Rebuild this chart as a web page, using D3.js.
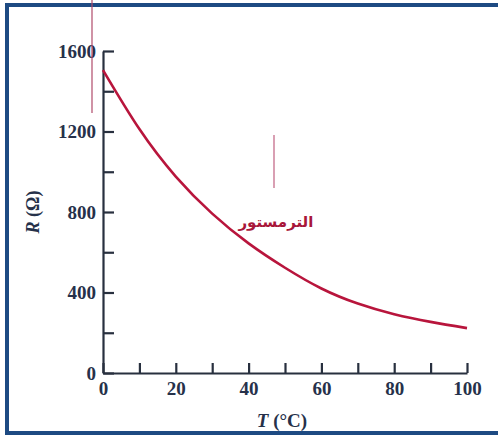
<!DOCTYPE html>
<html>
<head>
<meta charset="utf-8">
<script src="https://cdn.jsdelivr.net/npm/d3@7"></script>
<style>
  body { margin: 0; background: #fff; }
</style>
</head>
<body>
<div id="chart"></div>
<script>
// Thermistor resistance vs temperature
const temps = [0, 10, 20, 30, 40, 50, 60, 70, 80, 90, 100];
const resistance = [1505, 1212, 976, 792, 644, 523, 420, 345, 292, 254, 223];
const xTicks = [0, 10, 20, 30, 40, 50, 60, 70, 80, 90, 100];
const yTicks = [0, 200, 400, 600, 800, 1000, 1200, 1400, 1600];
const curveLabel = "الترمستور";

const width = 498;
const height = 436;
const margin = { top: 51, right: 31, bottom: 63, left: 103 };

const svg = d3.select("#chart")
    .append("svg")
    .attr("width", width)
    .attr("height", height);

// blue frame of the scanned figure
svg.append("rect")
    .attr("x", 7)
    .attr("y", 5)
    .attr("width", 520)
    .attr("height", 428)
    .attr("fill", "none")
    .attr("stroke", "#1d4a82")
    .attr("stroke-width", 4);

const x = d3.scaleLinear()
    .domain([0, 100])
    .range([margin.left, width - margin.right]);

const y = d3.scaleLinear()
    .domain([0, 1600])
    .range([height - margin.bottom, margin.top]);

const axisColor = "#28303f";
const labelColor = "#26314a";

// x axis, ticks pointing up
svg.append("g")
    .attr("transform", `translate(0, ${y(0)})`)
    .call(
        d3.axisBottom(x)
            .tickValues(xTicks)
            .tickSizeInner(-10)
            .tickSizeOuter(0)
            .tickPadding(9)
            .tickFormat(d => d % 20 === 0 ? d : "")
    );

// y axis, ticks pointing right
svg.append("g")
    .attr("transform", `translate(${x(0)}, 0)`)
    .call(
        d3.axisLeft(y)
            .tickValues(yTicks)
            .tickSizeInner(-11)
            .tickSizeOuter(0)
            .tickPadding(7)
            .tickFormat(d => d % 400 === 0 ? d : "")
    );

svg.selectAll(".domain")
    .attr("stroke", axisColor)
    .style("stroke-width", "2.2px");
svg.selectAll(".tick line")
    .attr("stroke", axisColor)
    .style("stroke-width", "2.2px");
svg.selectAll(".tick text")
    .style("fill", labelColor)
    .style("font-family", "'Liberation Serif', serif")
    .style("font-weight", "bold")
    .style("font-size", "19px");

// axis titles
const xTitle = svg.append("text")
    .attr("x", x(50) - 3)
    .attr("y", 427)
    .style("text-anchor", "middle")
    .style("font-family", "'Liberation Serif', serif")
    .style("font-weight", "bold")
    .style("font-size", "19px")
    .style("fill", labelColor);
xTitle.append("tspan").style("font-style", "italic").text("T");
xTitle.append("tspan").text(" (°C)");

const yTitle = svg.append("text")
    .attr("transform", `translate(39, ${y(800)}) rotate(-90)`)
    .style("text-anchor", "middle")
    .style("font-family", "'Liberation Serif', serif")
    .style("font-weight", "bold")
    .style("font-size", "18px")
    .style("fill", labelColor);
yTitle.append("tspan").style("font-style", "italic").text("R");
yTitle.append("tspan").text(" (Ω)");

// the thermistor curve
const points = temps.map((t, i) => ({ t: t, r: resistance[i] }));

const line = d3.line()
    .x(d => x(d.t))
    .y(d => y(d.r))
    .curve(d3.curveNatural);

svg.append("path")
    .datum(points)
    .attr("fill", "none")
    .attr("stroke", "#b8153c")
    .attr("stroke-width", 2.6)
    .attr("d", line);

svg.append("text")
    .attr("x", x(47.5))
    .attr("y", y(725))
    .attr("direction", "rtl")
    .style("text-anchor", "middle")
    .style("font-family", "'DejaVu Sans', sans-serif")
    .style("font-weight", "bold")
    .style("font-size", "15px")
    .style("letter-spacing", "1px")
    .style("fill", "#a8163a")
    .text(curveLabel);

// thin red pen strokes left on the scan
svg.append("line")
    .attr("x1", 92).attr("x2", 92)
    .attr("y1", 0).attr("y2", 113)
    .attr("stroke", "#b04a6a")
    .attr("stroke-width", 1.2);
svg.append("line")
    .attr("x1", 274).attr("x2", 274)
    .attr("y1", 135).attr("y2", 188)
    .attr("stroke", "#c06080")
    .attr("stroke-width", 1.2);
</script>
</body>
</html>
